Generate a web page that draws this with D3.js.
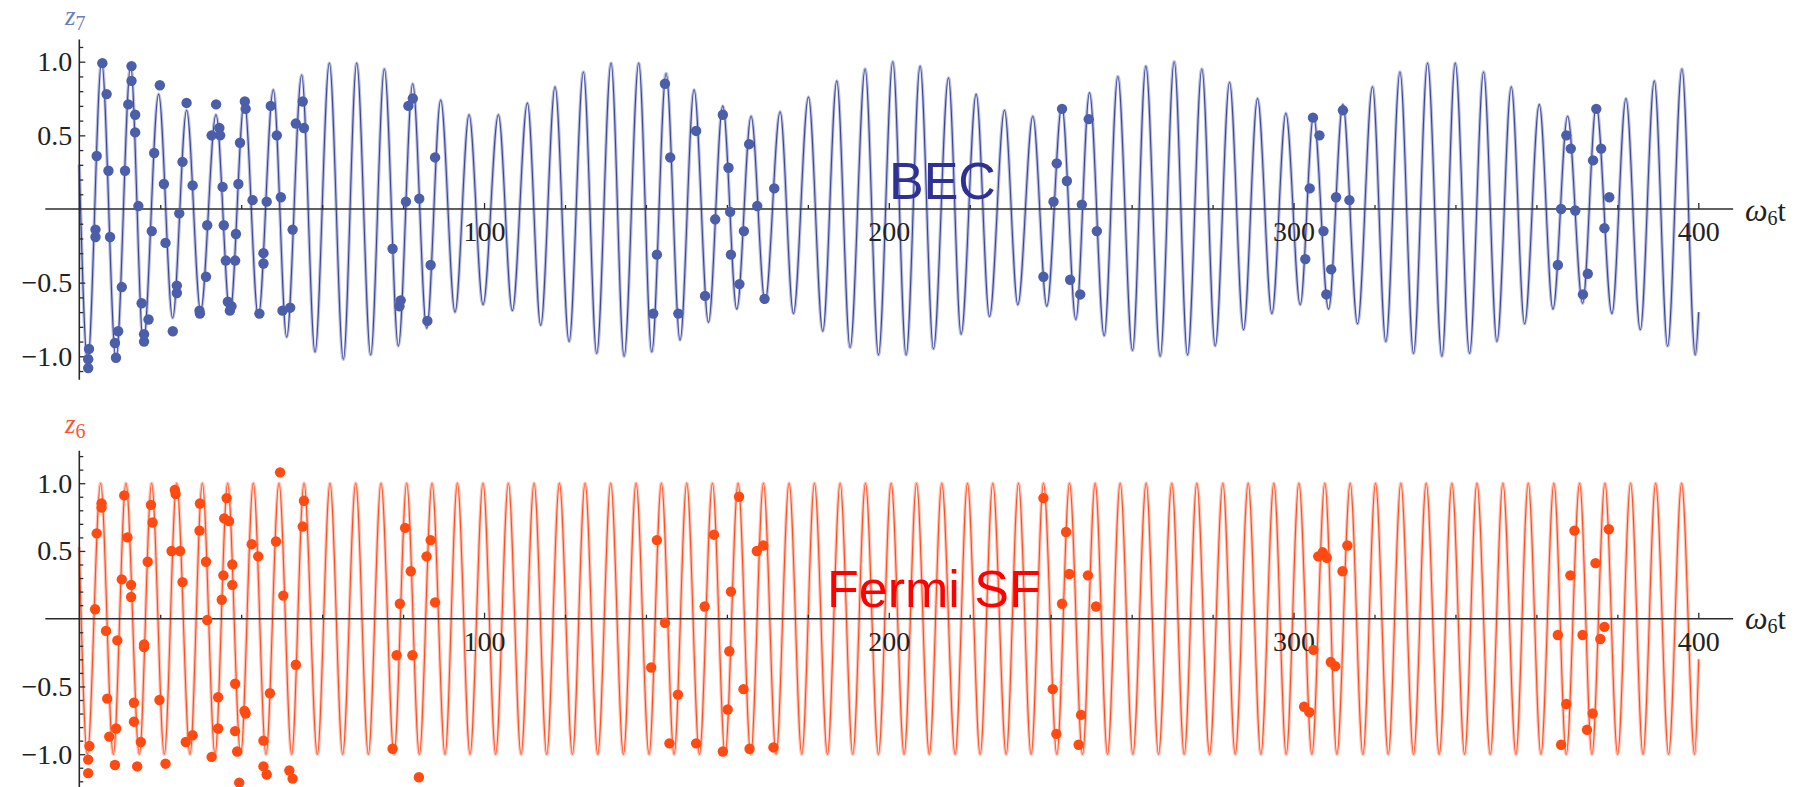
<!DOCTYPE html>
<html>
<head>
<meta charset="utf-8">
<script src="https://cdn.jsdelivr.net/npm/d3@7"></script>
<style>
  body { margin: 0; background: #fff; }
  svg { display: block; }
  .big-label { font-family: "Liberation Sans", Arial, sans-serif; font-size: 52px; }
</style>
</head>
<body>
<svg id="chart" width="1810" height="787"></svg>
<script>
/* ---------- data ---------- */

// BEC curve: turning points [t, z7]
const becCurve = [
  [0, 0.30], [2.06, -1.04], [5.52, 1.00], [9.06, -1.02], [12.69, 0.97], [15.82, -0.91],
  [19.60, 0.78], [23.06, -0.74], [26.52, 0.67], [29.98, -0.69], [33.77, 0.64], [37.23, -0.71],
  [40.77, 0.73], [44.23, -0.73], [47.94, 0.81], [51.24, -0.87], [54.94, 0.91], [58.24, -0.97],
  [61.78, 0.99], [65.24, -1.02], [68.53, 0.99], [71.99, -0.99], [75.37, 0.95], [78.83, -0.93],
  [82.37, 0.85], [85.83, -0.81], [89.29, 0.74], [92.83, -0.70], [96.30, 0.64], [99.75, -0.65],
  [103.54, 0.64], [106.99, -0.69], [110.71, 0.72], [114.00, -0.79], [117.55, 0.83], [121.01, -0.90],
  [124.55, 0.93], [127.84, -0.98], [131.38, 0.99], [134.60, -1.00], [138.22, 0.99], [141.43, -0.97],
  [144.98, 0.92], [148.43, -0.89], [151.89, 0.81], [155.44, -0.77], [158.98, 0.70], [162.44, -0.68],
  [165.98, 0.63], [169.44, -0.63], [173.15, 0.66], [176.44, -0.71], [180.15, 0.76], [183.69, -0.83],
  [187.15, 0.87], [190.44, -0.94], [194.15, 0.95], [197.45, -0.99], [200.99, 1.00], [204.28, -0.99],
  [207.74, 0.97], [211.04, -0.95], [214.74, 0.89], [217.87, -0.85], [221.58, 0.78], [224.88, -0.73],
  [228.58, 0.67], [231.88, -0.65], [235.59, 0.63], [239.04, -0.66], [242.75, 0.70], [246.21, -0.75],
  [249.59, 0.79], [253.21, -0.86], [256.59, 0.90], [260.21, -0.96], [263.51, 0.97], [267.05, -1.00],
  [270.51, 1.00], [273.81, -0.99], [277.35, 0.95], [280.65, -0.93], [284.19, 0.86], [287.64, -0.82],
  [291.10, 0.75], [294.65, -0.71], [298.10, 0.65], [301.65, -0.65], [304.94, 0.63], [308.65, -0.68],
  [312.19, 0.71], [315.82, -0.78], [319.50, 0.83], [322.80, -0.90], [326.30, 0.93], [329.65, -0.98],
  [333.11, 0.99], [336.66, -1.00], [339.95, 0.99], [343.49, -0.98], [346.95, 0.93], [350.25, -0.90],
  [353.79, 0.83], [357.08, -0.78], [360.71, 0.71], [364.09, -0.68], [367.71, 0.63], [371.42, -0.64],
  [374.79, 0.70], [378.66, -0.71], [382.12, 0.75], [385.67, -0.82], [389.13, 0.87], [392.42, -0.93],
  [395.96, 0.95], [399.26, -0.99], [400.10, -0.70]
];

// BEC sample points [t, z7]
const becDots = [
  [2.4, -0.95], [2.2, -1.02], [2.2, -1.08], [4.0, -0.14], [4.0, -0.19], [4.3, 0.36], [5.7, 0.99],
  [6.75, 0.78], [7.2, 0.26], [7.6, -0.19], [8.8, -0.91], [9.06, -1.01], [9.6, -0.83], [10.5, -0.53],
  [11.3, 0.26], [12.1, 0.71], [12.9, 0.97], [12.9, 0.87], [13.8, 0.64], [13.8, 0.52], [14.6, 0.02],
  [15.4, -0.64], [16.0, -0.85], [16.0, -0.90], [17.1, -0.75], [17.9, -0.15], [18.5, 0.38], [19.9, 0.84],
  [20.9, 0.17], [21.3, -0.23], [23.1, -0.83], [24.1, -0.52], [24.1, -0.57], [24.7, -0.03], [25.5, 0.32],
  [26.5, 0.72], [28.0, 0.16], [29.7, -0.69], [29.8, -0.71], [31.3, -0.46], [31.6, -0.11], [32.7, 0.50],
  [33.8, 0.71], [34.6, 0.55], [34.8, 0.50], [35.4, 0.15], [35.7, -0.11], [36.2, -0.35], [36.7, -0.63],
  [37.2, -0.69], [37.6, -0.66], [38.5, -0.35], [38.7, -0.17], [39.3, 0.17], [39.7, 0.45], [40.9, 0.73],
  [41.1, 0.68], [42.8, 0.06], [44.5, -0.71], [45.5, -0.30], [45.5, -0.37], [46.3, 0.05], [47.3, 0.70],
  [48.8, 0.50], [49.8, 0.08], [50.2, -0.69], [52.1, -0.67], [52.7, -0.14], [53.5, 0.58], [55.2, 0.73],
  [55.5, 0.55], [77.4, -0.27], [79.1, -0.66], [79.4, -0.62], [80.7, 0.05], [81.3, 0.70], [82.4, 0.75],
  [84.0, 0.07], [86.0, -0.76], [86.8, -0.38], [87.9, 0.35],
  [144.7, 0.85], [146.0, 0.35], [142.7, -0.31], [141.8, -0.71], [148.0, -0.71], [152.4, 0.53],
  [154.6, -0.59], [157.1, -0.07], [159.0, 0.64], [160.4, 0.28], [160.8, -0.02], [161.0, -0.31],
  [163.1, -0.51], [164.2, -0.15], [165.5, 0.44], [167.5, 0.02], [169.3, -0.61], [171.7, 0.14],
  [242.8, 0.68], [241.5, 0.31], [244.0, 0.19], [240.7, 0.05], [238.2, -0.46], [244.8, -0.48],
  [247.3, -0.58], [249.4, 0.61], [247.7, 0.03], [251.4, -0.15],
  [304.8, 0.62], [306.4, 0.50], [304.0, 0.14], [302.9, -0.34], [307.4, -0.15], [309.3, -0.41],
  [308.1, -0.58], [310.5, 0.08], [312.2, 0.67], [313.8, 0.06],
  [367.4, 0.50], [368.5, 0.41], [366.1, 0.00], [369.6, -0.01], [365.3, -0.38], [372.7, -0.44],
  [371.5, -0.58], [374.8, 0.68], [374.0, 0.33], [376.0, 0.41], [378.0, 0.08], [376.8, -0.13]
];

// Fermi SF curve: times of the maxima (z6 = 1) and minima (z6 = -1), plus the two ends
const fermiPeaks = [
  5.27, 11.53, 17.87, 24.05, 30.40, 36.66, 43.00, 49.34, 55.52, 61.94, 68.29, 74.55, 80.89, 87.15,
  93.41, 99.75, 106.01, 112.36, 118.62, 124.96, 131.30, 137.56, 143.82, 150.08, 156.43, 162.77,
  169.03, 175.37, 181.63, 187.98, 194.24, 200.58, 206.85, 213.10, 219.44, 225.70, 232.04, 238.22,
  244.65, 250.99, 257.17, 263.59, 269.93, 276.11, 282.54, 288.80, 295.14, 301.32, 307.74, 314.00,
  320.26, 326.52, 332.78, 339.13, 345.31, 351.73, 357.99, 364.33, 370.68, 376.94, 383.28, 389.46,
  395.88
];
const fermiTroughs = [
  1.98, 8.40, 14.83, 21.00, 27.35, 33.53, 39.87, 46.13, 52.47, 58.81, 65.07, 71.42, 77.76, 84.02,
  90.36, 96.54, 102.88, 109.14, 115.49, 121.83, 128.09, 134.43, 140.77, 146.95, 153.21, 159.56,
  165.90, 172.16, 178.50, 184.84, 191.10, 197.45, 203.79, 210.01, 216.39, 222.57, 229.00, 235.17,
  241.52, 247.86, 254.04, 260.30, 266.64, 272.98, 279.24, 285.58, 291.93, 298.19, 304.53, 310.71,
  317.13, 323.40, 329.65, 335.99, 342.26, 348.60, 354.94, 361.12, 367.38, 373.72, 380.07, 386.33,
  392.67, 399.09
];
const fermiEnds = [[0, 0.53], [400.1, -0.30]];

// Fermi SF sample points [t, z6]
const fermiDots = [
  [2.5, -0.94], [2.2, -1.04], [2.2, -1.14], [3.9, 0.07], [4.3, 0.63], [5.5, 0.85], [5.5, 0.82],
  [6.6, -0.09], [6.9, -0.59], [7.4, -0.87], [8.8, -1.08], [9.1, -0.81], [9.4, -0.16], [10.5, 0.29],
  [11.1, 0.91], [11.9, 0.60], [12.8, 0.25], [12.8, 0.16], [13.5, -0.62], [13.5, -0.76], [14.3, -1.09],
  [15.2, -0.91], [16.0, -0.19], [16.0, -0.21], [16.9, 0.42], [17.7, 0.84], [18.1, 0.71], [19.8, -0.60],
  [21.3, -1.07], [22.8, 0.50], [24.9, 0.50], [23.6, 0.95], [23.8, 0.92], [25.5, 0.27], [26.3, -0.91],
  [28.0, -0.86], [29.7, 0.65], [29.8, 0.85], [31.3, 0.42], [31.6, -0.01], [32.7, -1.02], [34.3, -0.58],
  [34.3, -0.81], [35.2, 0.14], [35.6, 0.32], [35.8, 0.74], [36.4, 0.89], [37.0, 0.72], [37.8, 0.40],
  [37.8, 0.25], [38.5, -0.48], [38.5, -0.83], [39.0, -0.98], [39.5, -1.21], [40.8, -0.68], [41.1, -0.70],
  [42.6, 0.55], [44.2, 0.46], [45.5, -0.90], [45.5, -1.09], [46.3, -1.15], [47.1, -0.55], [48.6, 0.57],
  [49.6, 1.08], [50.4, 0.17], [51.9, -1.12], [52.7, -1.18], [53.5, -0.34], [55.2, 0.68], [55.5, 0.87],
  [77.4, -0.96], [78.4, -0.27], [79.2, 0.11], [80.5, 0.67], [81.9, 0.35], [82.3, -0.27], [83.9, -1.17],
  [85.8, 0.46], [86.8, 0.58], [87.9, 0.12],
  [142.7, 0.58], [141.3, -0.36], [144.7, -0.03], [145.8, -0.92], [147.9, -0.56], [152.4, -0.92],
  [154.5, 0.09], [156.8, 0.62], [159.0, -0.98], [160.2, -0.67], [160.6, -0.24], [161.0, 0.20],
  [163.0, 0.90], [164.1, -0.52], [165.6, -0.96], [167.4, 0.50], [169.0, 0.54], [171.5, -0.95],
  [238.2, 0.89], [240.5, -0.52], [241.4, -0.85], [242.8, 0.11], [243.8, 0.64], [244.6, 0.33],
  [247.5, -0.71], [246.9, -0.93], [249.2, 0.32], [251.2, 0.09],
  [302.6, -0.65], [303.9, -0.69], [304.9, -0.23], [306.1, 0.46], [307.2, 0.49], [308.2, 0.45],
  [309.2, -0.32], [310.3, -0.35], [312.1, 0.35], [313.3, 0.54],
  [365.3, -0.12], [366.1, -0.93], [367.4, -0.63], [368.4, 0.32], [369.4, 0.65], [371.4, -0.12],
  [372.5, -0.82], [373.9, -0.70], [374.6, 0.41], [375.8, -0.15], [376.8, -0.06], [377.9, 0.66]
];

const xMajorTicks = [100, 200, 300, 400];
const yMajorTicks = [-1, -0.5, 0.5, 1];

/* ---------- layout ---------- */
const svg = d3.select("#chart");
const serif = "Liberation Serif";
const xScale = d3.scaleLinear().domain([0, 400]).range([79.3, 1698.3]);
const xAxisExtent = [-8.4, 408.6];
const xMinorTicks = d3.range(20, 401, 20).filter(v => v % 100 !== 0);

const fermiCurve = fermiPeaks.map(t => [t, 1])
  .concat(fermiTroughs.map(t => [t, -1]), fermiEnds)
  .sort((a, b) => a[0] - b[0]);

const panels = [
  {
    y: d3.scaleLinear().domain([-1, 1]).range([356.3, 61.7]),
    yExtent: [-1.16, 1.15], minorMax: 11,
    curve: becCurve, dots: becDots,
    halo: "#bcc0e0", core: "#3b4696", dot: "#4b5ea9",
    sym: "z", sub: "7", symColor: "#6b7dc1", symX: 65, symY: 25, subY: 30,
    name: "BEC", nameColor: "#2e3192", nameX: 889, nameY: 199,
    tX: 1745, tY: 221
  },
  {
    y: d3.scaleLinear().domain([-1, 1]).range([754.2, 483.2]),
    yExtent: [-1.25, 1.24], minorMax: 12,
    curve: fermiCurve, dots: fermiDots,
    halo: "#ffc2b4", core: "#ff4d1f", dot: "#ff4b12",
    sym: "z", sub: "6", symColor: "#ff5533", symX: 65, symY: 433, subY: 438,
    name: "Fermi SF", nameColor: "#ff0000", nameX: 827, nameY: 607,
    tX: 1745, tY: 629
  }
];

function styleAxis(a) {
  a.select(".domain").remove();
  a.selectAll("line").attr("stroke", "#2b2b2b").attr("stroke-width", 1.3);
  a.selectAll("text")
    .attr("font-family", serif).attr("font-size", 28).attr("fill", "#222");
}

panels.forEach(p => {
  const g = svg.append("g");
  const y0 = p.y(0), x0 = xScale(0);

  // curve: halo + core
  const line = d3.line().x(d => xScale(d[0])).y(d => p.y(d[1])).curve(d3.curveMonotoneX);
  g.append("path").datum(p.curve).attr("d", line)
    .attr("fill", "none").attr("stroke", p.halo).attr("stroke-width", 3.4);
  g.append("path").datum(p.curve).attr("d", line)
    .attr("fill", "none").attr("stroke", p.core).attr("stroke-width", 1.1);

  // axis lines
  g.append("line")
    .attr("x1", xScale(xAxisExtent[0])).attr("x2", xScale(xAxisExtent[1]))
    .attr("y1", y0).attr("y2", y0).attr("stroke", "#2b2b2b").attr("stroke-width", 1.6);
  g.append("line")
    .attr("x1", x0).attr("x2", x0)
    .attr("y1", p.y(p.yExtent[0])).attr("y2", p.y(p.yExtent[1]))
    .attr("stroke", "#2b2b2b").attr("stroke-width", 1.6);

  // x ticks (pointing up, inside)
  const xMinor = d3.axisBottom(xScale).tickValues(xMinorTicks).tickSize(-4).tickFormat("");
  const xMajor = d3.axisBottom(xScale).tickValues(xMajorTicks).tickSize(-6).tickPadding(12)
    .tickFormat(d3.format("d"));
  [xMinor, xMajor].forEach(ax => {
    g.append("g").attr("transform", `translate(0,${y0})`).call(ax).call(styleAxis);
  });

  // y ticks (pointing right, inside)
  const yMinorTicks = d3.range(-p.minorMax, p.minorMax + 1)
    .filter(i => i % 5 !== 0).map(i => i / 10);
  const yMinor = d3.axisLeft(p.y).tickValues(yMinorTicks).tickSize(-4).tickFormat("");
  const yMajor = d3.axisLeft(p.y).tickValues(yMajorTicks).tickSize(-6).tickPadding(7)
    .tickFormat(d3.format(".1f"));
  [yMinor, yMajor].forEach(ax => {
    g.append("g").attr("transform", `translate(${x0},0)`).call(ax).call(styleAxis);
  });

  // sample points
  g.append("g").selectAll("circle").data(p.dots).join("circle")
    .attr("cx", d => xScale(d[0])).attr("cy", d => p.y(d[1]))
    .attr("r", 5.2).attr("fill", p.dot);

  // axis labels
  const sym = g.append("text").attr("x", p.symX).attr("y", p.symY)
    .attr("font-family", serif).attr("fill", p.symColor);
  sym.append("tspan").attr("font-style", "italic").attr("font-size", 27).text(p.sym);
  sym.append("tspan").attr("font-size", 20).attr("dy", p.subY - p.symY).text(p.sub);

  const tl = g.append("text").attr("x", p.tX).attr("y", p.tY)
    .attr("font-family", serif).attr("fill", "#222");
  tl.append("tspan").attr("font-style", "italic").attr("font-size", 32).text("ω");
  tl.append("tspan").attr("font-size", 20).attr("dy", 4).text("6");
  tl.append("tspan").attr("font-size", 30).attr("dy", -4).text("t");

  g.append("text").attr("class", "big-label")
    .attr("x", p.nameX).attr("y", p.nameY).attr("fill", p.nameColor).text(p.name);
});
</script>
</body>
</html>
